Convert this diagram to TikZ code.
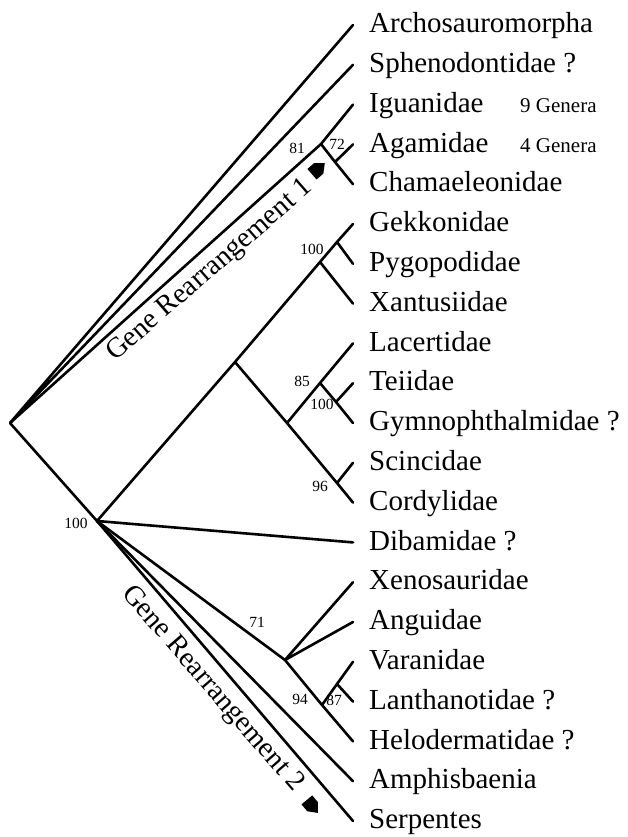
\documentclass[tikz,border=0pt]{standalone}
\usepackage{fontspec}
\setmainfont{Liberation Serif}
\usetikzlibrary{calc}
\tikzset{
 branch/.style={line width=2.6pt,line cap=round,line join=round},
 taxon/.style={anchor=west,inner xsep=16pt,inner ysep=0pt,text height=20pt,text depth=4.5pt,font=\fontsize{29}{31}\selectfont},
 genera/.style={anchor=base west,inner sep=0pt,font=\fontsize{21}{23}\selectfont},
 boot/.style={inner sep=0pt,font=\fontsize{15.5}{17}\selectfont},
 event/.style={inner sep=0pt,font=\fontsize{28.5}{30}\selectfont},
 }
\newcommand{\genemark}[3]{\begin{scope}[shift={(#1,#2)},rotate=#3]
 \fill(-8,-7)--(1,-7)--(9,0)--(1,7)--(-8,7)--cycle;
 \end{scope}}
\begin{document}
\begin{tikzpicture}[x=1pt,y=-1pt]
 \useasboundingbox(0,0)rectangle(628,837);
 \foreach \n/\t [count=\i from 0] in {archo/Archosauromorpha,spheno/Sphenodontidae ?,iguan/Iguanidae,agam/Agamidae,chama/Chamaeleonidae,gekko/Gekkonidae,pygo/Pygopodidae,xantu/Xantusiidae,lacer/Lacertidae,teii/Teiidae,gymno/Gymnophthalmidae ?,scinc/Scincidae,cordy/Cordylidae,dibam/Dibamidae ?,xeno/Xenosauridae,angui/Anguidae,varan/Varanidae,lantha/Lanthanotidae ?,helo/Helodermatidae ?,amphis/Amphisbaenia,serp/Serpentes}
  \node[taxon](\n)at(353,25+39.8*\i){\t};
 \node[genera](igen)at(520,112.3){9 Genera};
 \node[genera](agen)at(520,152.1){4 Genera};
 \coordinate(root)at(10,423);
 \coordinate(sq)at(97,521);
 \coordinate(ig)at(321,144);
 \coordinate(ac)at(335,162);
 \coordinate(sc)at(235,362);
 \coordinate(gk)at(320,262);
 \coordinate(gp)at(337,242);
 \coordinate(la)at(287,423);
 \coordinate(tg)at(320,383);
 \coordinate(te)at(336,402);
 \coordinate(cs)at(337,483);
 \coordinate(an)at(285,660);
 \coordinate(vh)at(322,705);
 \coordinate(vl)at(337,684);
 \draw[branch](archo.west)--(root)--(spheno.west);
 \draw[branch](root)--(ig)--(iguan.west);
 \draw[branch](ig)--(ac)--(chama.west);
 \draw[branch](ac)--(agam.west);
 \draw[branch](root)--(sq)--(sc)--(gk)--(gp)--(gekko.west);
 \draw[branch](gp)--(pygo.west);
 \draw[branch](gk)--(xantu.west);
 \draw[branch](sc)--(la)--(cs)--(cordy.west);
 \draw[branch](la)--(tg)--(lacer.west);
 \draw[branch](tg)--(te)--(gymno.west);
 \draw[branch](te)--(teii.west);
 \draw[branch](cs)--(scinc.west);
 \draw[branch](sq)--(dibam.west);
 \draw[branch](sq)--(an)--(xeno.west);
 \draw[branch](an)--(angui.west);
 \draw[branch](an)--(vh)--(helo.west);
 \draw[branch](vh)--(vl)--(varan.west);
 \draw[branch](vl)--(lantha.west);
 \draw[branch](sq)--(amphis.west);
 \draw[branch](sq)--(serp.west);
 \node[boot](b81)at(297,148){81};
 \node[boot](b72)at(337,144){72};
 \node[boot](b100g)at(312,249){100};
 \node[boot](b85)at(302,381){85};
 \node[boot](b100t)at(322,404){100};
 \node[boot](b96)at(320,486){96};
 \node[boot](b100s)at(76,523){100};
 \node[boot](b71)at(257,622){71};
 \node[boot](b94)at(300,699){94};
 \node[boot](b87)at(334,700){87};
 \node[event,rotate=41](ev1)at(210,271){Gene Rearrangement 1};
 \genemark{318}{169}{41}
 \node[event,rotate=-49](ev2)at(212,689){Gene Rearrangement 2};
 \genemark{312}{806}{-50}
\end{tikzpicture}
\end{document}
